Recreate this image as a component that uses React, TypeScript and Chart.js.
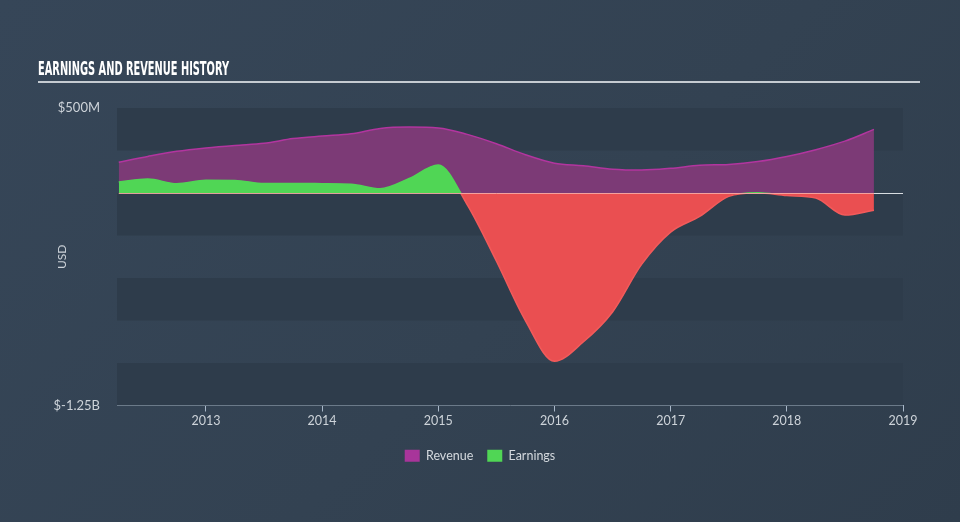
import React, { useEffect, useRef } from "react";
import { Chart, registerables } from "chart.js";

Chart.register(...registerables);

const quarters = [
  2012.25, 2012.5, 2012.75, 2013.0, 2013.25, 2013.5, 2013.75, 2014.0, 2014.25,
  2014.5, 2014.75, 2015.0, 2015.25, 2015.5, 2015.75, 2016.0, 2016.25, 2016.5,
  2016.75, 2017.0, 2017.25, 2017.5, 2017.75, 2018.0, 2018.25, 2018.5, 2018.75,
];

// values in $M
const revenue = [
  181, 215, 245, 265, 280, 292, 320, 335, 348, 380, 388, 383, 345, 290, 225,
  175, 160, 140, 135, 145, 163, 168, 185, 215, 255, 305, 374,
];

const earnings = [
  65, 82, 55, 75, 74, 56, 56, 55, 52, 25, 85, 165, -70, -400, -750, -990, -875,
  -700, -420, -230, -138, -20, 2, -15, -30, -130, -101,
];

const xTicks = [2013, 2014, 2015, 2016, 2017, 2018, 2019];
const yTickValues = [-1250, 500];
const yTickLabels: Record<string, string> = { "500": "$500M", "-1250": "$-1.25B" };

const FONT = "Lato, 'Open Sans', 'DejaVu Sans', sans-serif";
const GREEN = "#50d655";
const RED = "#ea4f51";
const RED_LINE = "#f25a5a";

function splitGradient(ctx: any, above: string, below: string) {
  const chart = ctx.chart;
  const area = chart.chartArea;
  if (!area) return below;
  const y0 = chart.scales.y.getPixelForValue(0);
  const f = Math.min(1, Math.max(0, (y0 - area.top) / (area.bottom - area.top)));
  const g = chart.ctx.createLinearGradient(0, area.top, 0, area.bottom);
  g.addColorStop(0, above);
  g.addColorStop(f, above);
  g.addColorStop(f, below);
  g.addColorStop(1, below);
  return g;
}

export default function App() {
  const ref = useRef<HTMLCanvasElement | null>(null);

  useEffect(() => {
    if (!ref.current) return;

    const bandsPlugin = {
      id: "bands",
      beforeDatasetsDraw(chart: any) {
        const { ctx, chartArea, scales } = chart;
        const y = scales.y;
        ctx.save();
        ctx.fillStyle = "#2e3c4b";
        for (let v = 500; v > -1250; v -= 500) {
          const top = y.getPixelForValue(v);
          const bot = y.getPixelForValue(v - 250);
          ctx.fillRect(chartArea.left, top, chartArea.right - chartArea.left, bot - top);
        }
        ctx.restore();
      },
      afterDatasetsDraw(chart: any) {
        const { ctx, chartArea, scales } = chart;
        const y0 = Math.round(scales.y.getPixelForValue(0)) + 0.5;
        const xEnd = scales.x.getPixelForValue(quarters[quarters.length - 1]);
        const xStart = scales.x.getPixelForValue(quarters[0]);
        ctx.save();
        ctx.lineWidth = 1;
        ctx.strokeStyle = "rgba(245,170,165,0.9)";
        ctx.beginPath();
        ctx.moveTo(xStart, y0);
        ctx.lineTo(xEnd, y0);
        ctx.stroke();
        ctx.strokeStyle = "#d8dde2";
        ctx.beginPath();
        ctx.moveTo(xEnd, y0);
        ctx.lineTo(chartArea.right, y0);
        ctx.stroke();
        ctx.restore();
      },
      afterDraw(chart: any) {
        const { ctx, chartArea } = chart;
        ctx.save();
        // title
        ctx.fillStyle = "#ffffff";
        ctx.font = "bold 19px 'DejaVu Sans Condensed', 'DejaVu Sans', sans-serif";
        ctx.textBaseline = "alphabetic";
        const t = "EARNINGS AND REVENUE HISTORY";
        const w = ctx.measureText(t).width;
        ctx.translate(38, 75);
        ctx.scale(191 / w, 1);
        ctx.fillText(t, 0, 0);
        ctx.setTransform(1, 0, 0, 1, 0, 0);
        ctx.fillStyle = "#c5cbd1";
        ctx.fillRect(38, 81, 882, 2);
        // axis title
        ctx.fillStyle = "#cdd3d9";
        ctx.font = `12px ${FONT}`;
        ctx.textAlign = "center";
        ctx.textBaseline = "middle";
        ctx.translate(62, (chartArea.top + chartArea.bottom) / 2);
        ctx.rotate(-Math.PI / 2);
        ctx.fillText("USD", 0, 0);
        ctx.restore();
      },
    };

    const chart = new Chart(ref.current, {
      type: "line",
      data: {
        datasets: [
          {
            label: "Earnings",
            data: quarters.map((q, i) => ({ x: q, y: earnings[i] })),
            borderColor: (c: any) => splitGradient(c, GREEN, RED_LINE),
            borderWidth: 1.5,
            pointRadius: 0,
            tension: 0.4,
            cubicInterpolationMode: "monotone",
            fill: { target: "origin", above: GREEN, below: RED },
            backgroundColor: GREEN,
          } as any,
          {
            label: "Revenue",
            data: quarters.map((q, i) => ({ x: q, y: revenue[i] })),
            borderColor: "#b2359f",
            borderWidth: 1.5,
            pointRadius: 0,
            tension: 0.4,
            cubicInterpolationMode: "monotone",
            fill: "origin",
            backgroundColor: "#7c3a76",
          } as any,
        ],
      },
      options: {
        animation: false,
        responsive: false,
        maintainAspectRatio: false,
        layout: { padding: { left: 0, right: 0, top: 108, bottom: 50 } },
        plugins: {
          tooltip: { enabled: false },
          title: { display: false },
          legend: {
            display: true,
            position: "bottom",
            labels: {
              color: "#d4d9de",
              font: { family: FONT, size: 12.5 },
              boxWidth: 15,
              boxHeight: 12,
              padding: 14,
              sort: (a: any, b: any) => b.datasetIndex - a.datasetIndex,
              generateLabels: (chart: any) =>
                chart.data.datasets.map((ds: any, i: number) => ({
                  text: ds.label,
                  fillStyle: i === 0 ? GREEN : "#a8359a",
                  strokeStyle: "transparent",
                  lineWidth: 0,
                  fontColor: "#d4d9de",
                  datasetIndex: i,
                  hidden: false,
                })),
            },
          },
        },
        scales: {
          x: {
            type: "linear",
            min: 2012.235,
            max: 2019,
            afterBuildTicks: (axis: any) => {
              axis.ticks = xTicks.map((v) => ({ value: v }));
            },
            afterFit: (axis: any) => {
              axis.height = 30;
            },
            ticks: {
              color: "#cdd3d9",
              font: { family: FONT, size: 12.5 },
              padding: 2,
              callback: (v: any) => String(v),
            },
            grid: {
              display: true,
              drawOnChartArea: false,
              drawTicks: true,
              tickLength: 6,
              color: "#a9b8c9",
            },
            border: { display: true, color: "#a9b8c9", width: 1 },
          },
          y: {
            type: "linear",
            min: -1250,
            max: 500,
            afterBuildTicks: (axis: any) => {
              axis.ticks = yTickValues.map((v) => ({ value: v }));
            },
            afterFit: (axis: any) => {
              axis.width = 117;
            },
            ticks: {
              color: "#cdd3d9",
              font: { family: FONT, size: 13 },
              padding: 9,
              callback: (v: any) => yTickLabels[String(v)] ?? "",
            },
            grid: { display: false },
            border: { display: false },
          },
          yRight: {
            type: "linear",
            position: "right",
            min: 0,
            max: 1,
            afterFit: (axis: any) => {
              axis.width = 57;
            },
            ticks: { display: false },
            grid: { display: false },
            border: { display: false },
          },
        },
      },
      plugins: [bandsPlugin],
    });

    return () => chart.destroy();
  }, []);

  return (
    <div
      style={{
        position: "fixed",
        left: 0,
        top: 0,
        width: 960,
        height: 522,
        background: "linear-gradient(135deg, #364658 0%, #334252 55%, #2f3d4c 100%)",
      }}
    >
      <canvas ref={ref} width={960} height={522} style={{ display: "block" }} />
    </div>
  );
}
